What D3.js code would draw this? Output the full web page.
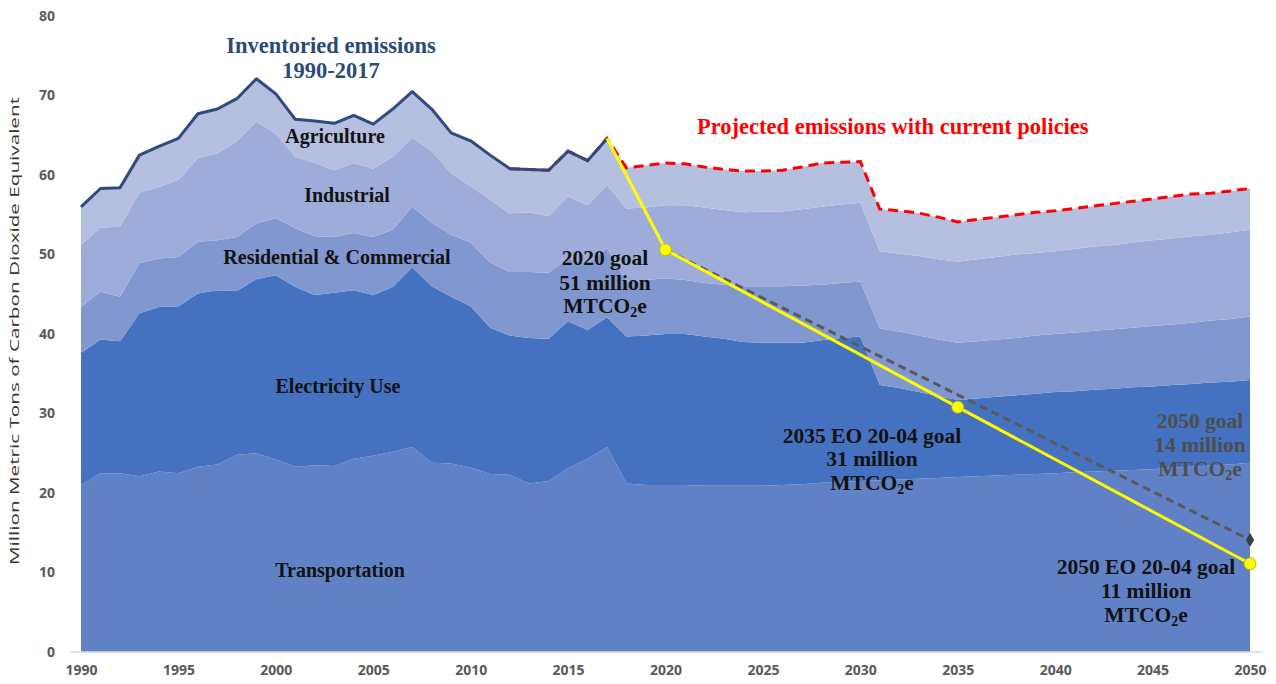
<!DOCTYPE html>
<html>
<head>
<meta charset="utf-8">
<script src="https://cdn.jsdelivr.net/npm/d3@7"></script>
<style>
  body { margin: 0; background: #fff; }
  svg { display: block; }
  .serif { font-family: "Liberation Serif", "Times New Roman", serif; font-weight: bold; }
</style>
</head>
<body>
<svg id="chart" width="1276" height="684"></svg>
<script>
const years = d3.range(1990, 2051);

const transportation = [
  21.0, 22.5, 22.5, 22.1, 22.7, 22.5, 23.3, 23.6, 24.8, 25.0,
  24.2, 23.3, 23.5, 23.4, 24.3, 24.7, 25.2, 25.8, 23.8, 23.7,
  23.2, 22.4, 22.3, 21.2, 21.5, 23.1, 24.3, 25.8, 21.2, 21.0,
  21.0, 21.0, 20.9, 20.9, 20.9, 20.9, 21.0, 21.1, 21.3, 21.4,
  21.5, 21.6, 21.7, 21.8, 21.9, 22.0, 22.1, 22.2, 22.3, 22.4,
  22.5, 22.6, 22.7, 22.8, 22.9, 23.0, 23.2, 23.3, 23.5, 23.6,
  23.8
];
const electricity = [
  16.6, 16.8, 16.6, 20.5, 20.7, 21.0, 21.8, 21.9, 20.6, 21.9,
  23.2, 22.6, 21.4, 21.8, 21.2, 20.2, 20.7, 22.6, 22.2, 21.0,
  20.3, 18.4, 17.5, 18.3, 17.9, 18.5, 16.2, 16.3, 18.5, 18.8,
  19.0, 19.0, 18.8, 18.5, 18.1, 18.0, 17.9, 17.8, 17.9, 18.1,
  18.2, 12.0, 11.5, 10.9, 10.3, 9.7, 9.8, 9.9, 10.0, 10.1,
  10.2, 10.2, 10.3, 10.3, 10.4, 10.4, 10.4, 10.4, 10.4, 10.4,
  10.4
];
const residential = [
  5.8, 6.0, 5.6, 6.3, 6.1, 6.2, 6.5, 6.3, 6.8, 7.0,
  7.2, 7.4, 7.4, 7.0, 7.2, 7.3, 7.2, 7.6, 8.0, 7.8,
  8.0, 8.2, 8.0, 8.3, 8.3, 7.9, 8.3, 8.7, 6.9, 7.0,
  7.0, 6.8, 6.7, 6.8, 7.0, 7.1, 7.1, 7.2, 7.0, 6.9,
  6.9, 7.1, 7.1, 7.1, 7.1, 7.2, 7.2, 7.2, 7.2, 7.3,
  7.3, 7.4, 7.4, 7.5, 7.5, 7.6, 7.6, 7.7, 7.8, 7.9,
  8.0
];
const industrial = [
  7.8, 8.1, 8.8, 8.9, 9.0, 9.7, 10.5, 10.9, 12.0, 12.8,
  10.6, 9.0, 9.2, 8.4, 8.8, 8.6, 9.2, 8.7, 9.0, 7.7,
  7.1, 7.9, 7.4, 7.5, 7.1, 7.8, 7.4, 7.9, 9.2, 9.1,
  9.2, 9.4, 9.5, 9.4, 9.3, 9.4, 9.4, 9.6, 9.8, 9.9,
  9.9, 9.7, 9.8, 10.0, 10.1, 10.2, 10.3, 10.4, 10.5, 10.4,
  10.4, 10.5, 10.6, 10.6, 10.7, 10.8, 10.8, 10.9, 10.8, 10.9,
  10.9
];
const agriculture = [
  4.8, 4.9, 4.9, 4.7, 5.1, 5.2, 5.6, 5.6, 5.4, 5.4,
  5.0, 4.7, 5.3, 5.9, 6.0, 5.6, 6.0, 5.8, 5.3, 5.1,
  5.7, 5.6, 5.6, 5.4, 5.8, 5.7, 5.6, 5.9, 5.1, 5.3,
  5.3, 5.2, 5.1, 5.1, 5.2, 5.1, 5.2, 5.3, 5.5, 5.3,
  5.2, 5.3, 5.4, 5.4, 5.3, 5.0, 5.0, 5.0, 5.0, 5.1,
  5.1, 5.1, 5.1, 5.2, 5.2, 5.2, 5.3, 5.3, 5.2, 5.2,
  5.2
];

const sectors = ["Transportation", "Electricity Use", "Residential & Commercial", "Industrial", "Agriculture"];
const sectorColors = ["#6081c6", "#4571c1", "#8197d0", "#9eacd9", "#b5c0e0"];

const goalYears = [2017, 2020, 2035, 2050];
const goalValues = [64.6, 50.6, 30.8, 11.1];
const oldGoalYears = [2020, 2050];
const oldGoalValues = [50.6, 14.1];

const yTicks = [0, 10, 20, 30, 40, 50, 60, 70, 80];
const xTicks = d3.range(1990, 2051, 5);

const rows = years.map((y, i) => ({
  year: y,
  "Transportation": transportation[i],
  "Electricity Use": electricity[i],
  "Residential & Commercial": residential[i],
  "Industrial": industrial[i],
  "Agriculture": agriculture[i]
}));

const svg = d3.select("#chart");
const x = d3.scaleLinear().domain([1990, 2050]).range([81, 1250]);
const y = d3.scaleLinear().domain([0, 80]).range([652, 16]);

const stacked = d3.stack().keys(sectors)(rows);

const area = d3.area()
  .x(d => x(d.data.year))
  .y0(d => y(d[0]))
  .y1(d => y(d[1]));

svg.append("g")
  .selectAll("path")
  .data(stacked)
  .join("path")
  .attr("fill", (d, i) => sectorColors[i])
  .attr("d", area);

// baseline
svg.append("line")
  .attr("x1", 70).attr("x2", 1262)
  .attr("y1", y(0)).attr("y2", y(0))
  .attr("stroke", "#d9d9d9").attr("stroke-width", 1.5);

// axes
const yAxis = d3.axisLeft(y).tickValues(yTicks).tickSize(0).tickPadding(0);
svg.append("g")
  .attr("transform", "translate(55,0)")
  .call(yAxis)
  .call(g => g.select(".domain").remove())
  .selectAll("text")
  .attr("font-family", "'Open Sans', sans-serif")
  .attr("font-weight", 700)
  .attr("font-size", 14)
  .attr("fill", "#595959");

const xAxis = d3.axisBottom(x).tickValues(xTicks).tickFormat(d3.format("d")).tickSize(0).tickPadding(0);
svg.append("g")
  .attr("transform", "translate(0,665)")
  .call(xAxis)
  .call(g => g.select(".domain").remove())
  .selectAll("text")
  .attr("font-family", "'Open Sans', sans-serif")
  .attr("font-weight", 700)
  .attr("font-size", 14)
  .attr("fill", "#595959");

svg.append("text")
  .attr("transform", "translate(19,331) rotate(-90)")
  .attr("text-anchor", "middle")
  .attr("font-family", "'Open Sans', sans-serif")
  .attr("font-size", 13.5)
  .attr("fill", "#333")
  .attr("textLength", 468)
  .attr("lengthAdjust", "spacingAndGlyphs")
  .text("Million Metric Tons of Carbon Dioxide Equivalent");

// totals
const totals = rows.map((r, i) => ({ year: r.year, value: stacked[4][i][1] }));
const line = d3.line().x(d => x(d.year)).y(d => y(d.value));

svg.append("path")
  .datum(totals.filter(d => d.year >= 2012))
  .attr("fill", "none")
  .attr("stroke", "#ff0000")
  .attr("stroke-width", 3)
  .attr("stroke-dasharray", "10,6")
  .attr("d", line);

svg.append("path")
  .datum(totals.filter(d => d.year <= 2017))
  .attr("fill", "none")
  .attr("stroke", "#2f4a7e")
  .attr("stroke-width", 3)
  .attr("stroke-linejoin", "round")
  .attr("d", line);

// old goal line
const oldGoal = oldGoalYears.map((yr, i) => ({ year: yr, value: oldGoalValues[i] }));
svg.append("path")
  .datum(oldGoal)
  .attr("fill", "none")
  .attr("stroke", "#595959")
  .attr("stroke-width", 3)
  .attr("stroke-dasharray", "8,5")
  .attr("d", line);
svg.append("path")
  .attr("d", d3.symbol(d3.symbolDiamond, 60)())
  .attr("transform", `translate(${x(2050)},${y(oldGoalValues[1])})`)
  .attr("fill", "#404040");

// EO 20-04 goal line
const goals = goalYears.map((yr, i) => ({ year: yr, value: goalValues[i] }));
svg.append("path")
  .datum(goals)
  .attr("fill", "none")
  .attr("stroke", "#ffff00")
  .attr("stroke-width", 3)
  .attr("d", line);
svg.selectAll("circle.goal")
  .data(goals.slice(1))
  .join("circle")
  .attr("class", "goal")
  .attr("cx", d => x(d.year))
  .attr("cy", d => y(d.value))
  .attr("r", 6)
  .attr("fill", "#ffff00")
  .attr("stroke", "#b8b800")
  .attr("stroke-width", 1);

// labels
function label(txt, px, py, size, color, anchor) {
  return svg.append("text")
    .attr("class", "serif")
    .attr("x", px).attr("y", py)
    .attr("font-size", size)
    .attr("fill", color)
    .attr("text-anchor", anchor || "middle")
    .text(txt);
}
function co2Label(px, py, size, color) {
  const t = svg.append("text")
    .attr("class", "serif")
    .attr("x", px).attr("y", py)
    .attr("font-size", size)
    .attr("fill", color)
    .attr("text-anchor", "middle");
  t.append("tspan").text("MTCO");
  t.append("tspan").attr("font-size", size * 0.65).attr("dy", 4).text("2");
  t.append("tspan").attr("dy", -4).text("e");
}

label("Inventoried emissions", 331, 53, 22.5, "#2c4a78");
label("1990-2017", 331, 78, 22.5, "#2c4a78");
label("Projected emissions with current policies", 697, 134, 22.5, "#ff0000", "start");

label("Agriculture", 335, 143, 20, "#111");
label("Industrial", 347, 202, 20, "#111");
label("Residential & Commercial", 337, 264, 20, "#111");
label("Electricity Use", 338, 393, 20, "#111");
label("Transportation", 340, 577, 20, "#111");

label("2020 goal", 605, 265, 21.5, "#111");
label("51 million", 605, 290, 21.5, "#111");
co2Label(605, 313, 21.5, "#111");

label("2035 EO 20-04 goal", 872, 443, 21.5, "#111");
label("31 million", 872, 466, 21.5, "#111");
co2Label(872, 490, 21.5, "#111");

label("2050 goal", 1200, 428, 21.5, "#4d4d4d");
label("14 million", 1200, 452, 21.5, "#4d4d4d");
co2Label(1200, 476, 21.5, "#4d4d4d");

label("2050 EO 20-04 goal", 1146, 574, 21.5, "#111");
label("11 million", 1146, 598, 21.5, "#111");
co2Label(1146, 622, 21.5, "#111");
</script>
</body>
</html>
